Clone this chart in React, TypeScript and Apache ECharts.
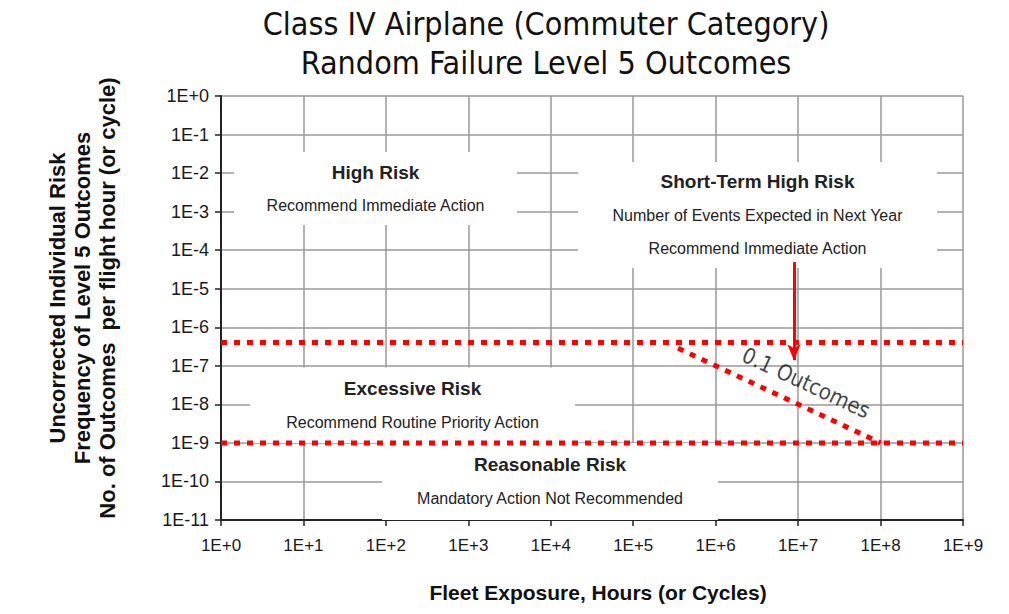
import React, { useEffect, useRef } from "react";
import * as echarts from "echarts";

// ---- axes ----
const xMin = 1;
const xMax = 1e9;
const yMin = 1e-11;
const yMax = 1;

// ---- threshold lines ----
const upperThresholdX = [1, 1e9];
const upperThresholdY = [4e-7, 4e-7];
const lowerThresholdX = [1, 1e9];
const lowerThresholdY = [1e-9, 1e-9];
const outcomesLineX = [3.5e5, 1e8];
const outcomesLineY = [2.86e-7, 1e-9];
const arrowX = [8.9e6, 8.9e6];
const arrowY = [4.9e-5, 1.4e-7];

// ---- region annotations ----
const regionTitles = ["High Risk", "Short-Term High Risk", "Excessive Risk", "Reasonable Risk"];
const regionNotes = [
  ["Recommend Immediate Action"],
  ["Number of Events Expected in Next Year", "Recommend Immediate Action"],
  ["Recommend Routine Priority Action"],
  ["Mandatory Action Not Recommended"],
];
const regionX0 = [1.44, 2.14e4, 2.25, 89.7];
const regionX1 = [3890, 4.84e8, 1.97e4, 1.07e6];
const regionYTop = [0.0352, 0.0194, 9e-8, 1e-9];
const regionYBottom = [4.5e-4, 3.45e-5, 1e-9, 1e-11];

const outcomesLabel = "0.1 Outcomes";
const outcomesLabelAt = [1.25e7, 3.6e-8];

const titleLines = ["Class IV Airplane (Commuter Category)", "Random Failure Level 5 Outcomes"];
const yAxisName = [
  "Uncorrected Individual Risk",
  "Frequency of Level 5 Outcomes",
  "No. of Outcomes  per flight hour (or cycle)",
];
const xAxisName = "Fleet Exposure, Hours (or Cycles)";

const ARIAL = '"Liberation Sans", Arial, sans-serif';
const TAHOMA = '"DejaVu Sans Condensed", "DejaVu Sans", sans-serif';
const RED = "#ff0000";

const expLabel = (v: number) => {
  const e = Math.round(Math.log10(v));
  return "1E" + (e >= 0 ? "+" : "") + e;
};

const pair = (xs: number[], ys: number[]) => xs.map((x, i) => [x, ys[i]]);

export default function App() {
  const ref = useRef<HTMLDivElement>(null);
  useEffect(() => {
    if (!ref.current) return;
    const chart = echarts.init(ref.current, undefined, { renderer: "svg" });

    const dotted = {
      color: RED,
      width: 5,
      type: [6, 7] as any,
      cap: "butt" as const,
    };

    const areas = regionTitles.map((t, i) => [
      {
        name: t,
        coord: [regionX0[i], regionYTop[i]],
        label: {
          formatter: ["{b|" + t + "}", ...regionNotes[i].map((n) => "{n|" + n + "}")].join("\n"),
        },
      },
      { coord: [regionX1[i], regionYBottom[i]] },
    ]);

    const axisCommon = {
      type: "log" as const,
      logBase: 10,
      interval: 1,
      axisLine: { show: true, lineStyle: { color: "#222", width: 2 } },
      axisTick: { show: true, length: 6, lineStyle: { color: "#222", width: 1.5 } },
      splitLine: { show: true, lineStyle: { color: "#999", width: 1.5 } },
      minorTick: { show: false },
      minorSplitLine: { show: false },
    };

    chart.setOption({
      animation: false,
      backgroundColor: "#fff",
      grid: { left: 221, right: 46, top: 96, bottom: 94, containLabel: false },
      xAxis: {
        ...axisCommon,
        min: xMin,
        max: xMax,
        splitNumber: 9,
        axisLabel: { formatter: expLabel, fontSize: 17, color: "#1a1a1a", fontFamily: ARIAL, margin: 17 },
      },
      yAxis: {
        ...axisCommon,
        min: yMin,
        max: yMax,
        splitNumber: 11,
        axisLabel: { formatter: expLabel, fontSize: 18, color: "#1a1a1a", fontFamily: ARIAL, margin: 12 },
      },
      graphic: [
        {
          type: "text",
          x: 546,
          y: 24,
          style: { text: titleLines[0], font: "32px " + TAHOMA, fill: "#111", align: "center", verticalAlign: "middle" },
        },
        {
          type: "text",
          x: 546,
          y: 63,
          style: { text: titleLines[1], font: "32px " + TAHOMA, fill: "#111", align: "center", verticalAlign: "middle" },
        },
        {
          type: "text",
          x: 82,
          y: 298,
          rotation: Math.PI / 2,
          style: {
            text: yAxisName.join("\n"),
            font: "bold 22px " + ARIAL,
            lineHeight: 25,
            fill: "#111",
            align: "center",
            verticalAlign: "middle",
          },
        },
        {
          type: "text",
          x: 598,
          y: 592,
          style: { text: xAxisName, font: "bold 21px " + ARIAL, fill: "#111", align: "center", verticalAlign: "middle" },
        },
      ],
      series: [
        {
          type: "line",
          z: 1,
          data: [],
          silent: true,
          markArea: {
            silent: true,
            itemStyle: { color: "#ffffff", opacity: 1, borderWidth: 0 },
            label: {
              show: true,
              position: "inside",
              color: "#222",
              fontFamily: ARIAL,
              rich: {
                b: { fontSize: 19, fontWeight: "bold", fontFamily: ARIAL, color: "#222", lineHeight: 34 },
                n: { fontSize: 16, fontFamily: ARIAL, color: "#222", lineHeight: 33 },
              },
            },
            data: areas,
          },
        },
        {
          type: "line",
          z: 5,
          symbol: "none",
          silent: true,
          lineStyle: dotted,
          data: pair(upperThresholdX, upperThresholdY),
        },
        {
          type: "line",
          z: 5,
          symbol: "none",
          silent: true,
          lineStyle: dotted,
          data: pair(lowerThresholdX, lowerThresholdY),
        },
        {
          type: "line",
          z: 5,
          symbol: "none",
          silent: true,
          lineStyle: dotted,
          data: pair(outcomesLineX, outcomesLineY),
        },
        {
          type: "line",
          z: 6,
          data: [],
          silent: true,
          markLine: {
            silent: true,
            symbol: ["none", "arrow"],
            symbolSize: [10, 16],
            label: { show: false },
            lineStyle: { color: RED, width: 3, type: "solid" },
            itemStyle: { color: RED },
            data: [[{ coord: [arrowX[0], arrowY[0]] }, { coord: [arrowX[1], arrowY[1]] }]],
          },
        },
        {
          type: "scatter",
          z: 7,
          silent: true,
          symbolSize: 0,
          data: [outcomesLabelAt],
          label: {
            show: true,
            position: "inside",
            formatter: outcomesLabel,
            rotate: -25,
            fontSize: 22,
            fontFamily: TAHOMA,
            color: "#111",
          },
        },
      ],
    });
    return () => chart.dispose();
  }, []);
  return (
    <div
      ref={ref}
      style={{ position: "absolute", left: 0, top: 0, width: 1009, height: 614, background: "#fff" }}
    />
  );
}
